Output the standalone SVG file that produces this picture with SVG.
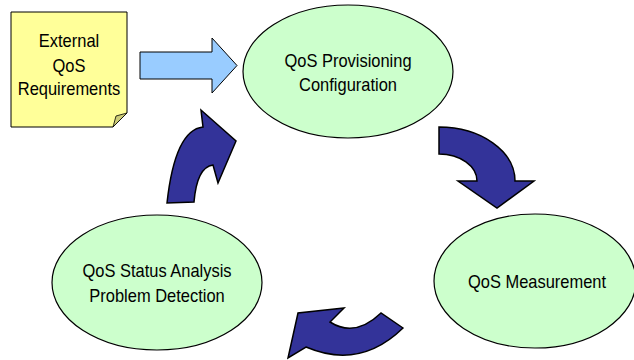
<svg xmlns="http://www.w3.org/2000/svg" width="634" height="360" viewBox="0 0 634 360">
<style>
.t{font-family:"Liberation Sans",Arial,sans-serif;font-size:18.2px;fill:#000;text-anchor:middle}
.ell{fill:#CCFFCC;stroke:#000;stroke-width:1.2}
.cyc{fill:#333399;stroke:#000;stroke-width:1.5;stroke-linejoin:miter}
</style>
<rect width="634" height="360" fill="#fff"/>
<g id="external">
<path d="M11,12 H127 V113 L113,127 H11 Z" fill="#FFFF99" stroke="#000" stroke-width="1"/>
<path d="M113,127 L116,116 L127,113 Z" fill="#CCCC77" stroke="#000" stroke-width="0.8"/>
<text class="t" transform="translate(69,47) scale(0.905,1)">External</text>
<text class="t" transform="translate(69,71.5) scale(0.905,1)">QoS</text>
<text class="t" transform="translate(69,95) scale(0.905,1)">Requirements</text>
</g>
<g id="provisioning">
<ellipse class="ell" cx="348" cy="71.5" rx="105" ry="66.5"/>
<text class="t" transform="translate(348,67) scale(0.905,1)">QoS Provisioning</text>
<text class="t" transform="translate(348,91) scale(0.905,1)">Configuration</text>
</g>
<g id="measurement">
<ellipse class="ell" cx="535" cy="281" rx="101" ry="67"/>
<text class="t" transform="translate(537,288) scale(0.905,1)">QoS Measurement</text>
</g>
<g id="analysis">
<ellipse class="ell" cx="157" cy="282.5" rx="105" ry="67.5"/>
<text class="t" transform="translate(157,277) scale(0.905,1)">QoS Status Analysis</text>
<text class="t" transform="translate(157,301.5) scale(0.905,1)">Problem Detection</text>
</g>
<g id="connectors">
<path d="M140,52 H212 V38 L237,65.5 L212,93 V79 H140 Z" fill="#99CCFF" stroke="#000" stroke-width="1"/>
<path class="cyc" d="M439,127 A76,54 0 0 1 515,181 L534,181 L497,208 L458,181 L477,181 A38,27 0 0 0 439,154 Z"/>
<path class="cyc" d="M167,203 Q175,130 203,127 L201,110 L236,141 L218,183 L213,165 Q197,167 194,202 Z"/>
<path class="cyc" d="M403,328 Q360,370 306,347 L288,358 L298,313 L344,308 L330,322 Q355,338 381,313 Z"/>
</g>
</svg>
